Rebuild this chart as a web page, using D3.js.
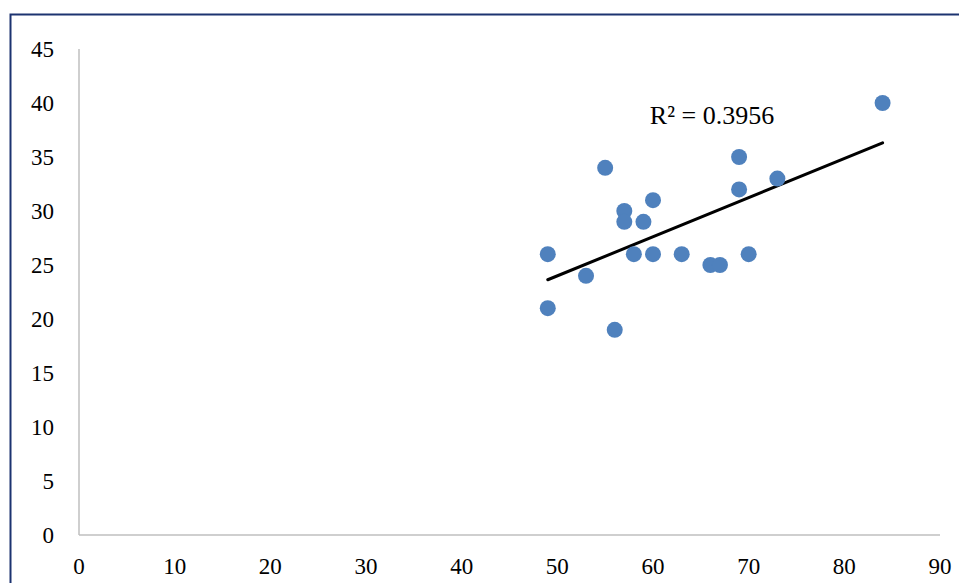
<!DOCTYPE html>
<html><head><meta charset="utf-8">
<script src="https://cdn.jsdelivr.net/npm/d3@7"></script>
<style>html,body{margin:0;padding:0;background:#fff;overflow:hidden}</style>
</head><body>
<svg id="chart" width="959" height="583"></svg>
<script>
const xValues = [49,49,53,55,56,57,57,58,59,60,60,63,66,67,69,69,70,73,84];
const yValues = [26,21,24,34,19,30,29,26,29,31,26,26,25,25,35,32,26,33,40];
const xTicks = [0,10,20,30,40,50,60,70,80,90];
const yTicks = [0,5,10,15,20,25,30,35,40,45];
const r2Label = "R² = 0.3956";

const svg = d3.select("#chart");
const font = "'Liberation Serif', 'Times New Roman', serif";

// frame
svg.append("rect").attr("x",10.5).attr("y",14.5).attr("width",1000).attr("height",1000)
  .attr("fill","#fff").attr("stroke","#1c3370").attr("stroke-width",2);

const x = d3.scaleLinear().domain([0,90]).range([79,940]);
const y = d3.scaleLinear().domain([0,45]).range([535,49]);

// axes lines
svg.append("line").attr("x1",x(0)).attr("x2",x(0)).attr("y1",y(45)).attr("y2",y(0))
  .attr("stroke","#bfbfbf").attr("stroke-width",1.5);
svg.append("line").attr("x1",x(0)).attr("x2",x(90)).attr("y1",y(0)).attr("y2",y(0))
  .attr("stroke","#bfbfbf").attr("stroke-width",1.5);

// tick labels
svg.append("g").selectAll("text").data(yTicks).join("text")
  .attr("x",54).attr("y",d=>y(d)+8).attr("text-anchor","end")
  .attr("font-family",font).attr("font-size",23).attr("fill","#000").text(d=>d);
svg.append("g").selectAll("text").data(xTicks).join("text")
  .attr("x",d=>x(d)).attr("y",574).attr("text-anchor","middle")
  .attr("font-family",font).attr("font-size",23).attr("fill","#000").text(d=>d);

// regression
const n = xValues.length;
const mx = d3.mean(xValues), my = d3.mean(yValues);
let sxy=0, sxx=0;
for(let i=0;i<n;i++){ sxy+=(xValues[i]-mx)*(yValues[i]-my); sxx+=(xValues[i]-mx)**2; }
const slope = sxy/sxx, icpt = my - slope*mx;
const x0 = d3.min(xValues), x1 = d3.max(xValues);
svg.append("line").attr("x1",x(x0)).attr("y1",y(icpt+slope*x0))
  .attr("x2",x(x1)).attr("y2",y(icpt+slope*x1))
  .attr("stroke","#000").attr("stroke-width",3).attr("stroke-linecap","round");

// points
svg.append("g").selectAll("circle").data(xValues.map((v,i)=>[v,yValues[i]])).join("circle")
  .attr("cx",d=>x(d[0])).attr("cy",d=>y(d[1])).attr("r",8).attr("fill","#4f81bd");

// R2 label
svg.append("text").attr("x",712).attr("y",124).attr("text-anchor","middle")
  .attr("font-family",font).attr("font-size",26).attr("fill","#000").text(r2Label);
</script>
</body></html>
